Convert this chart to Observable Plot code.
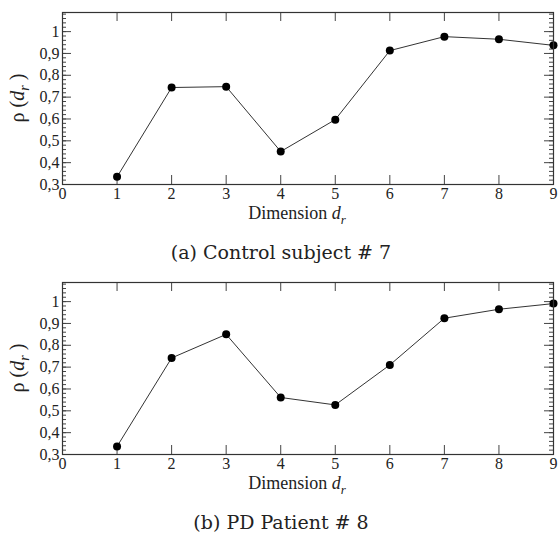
<!DOCTYPE html>
<html>
<head>
<meta charset="utf-8">
<script src="https://cdn.jsdelivr.net/npm/d3@7"></script>
<script src="https://cdn.jsdelivr.net/npm/@observablehq/plot@0.6"></script>
<style>
  html, body { margin: 0; padding: 0; background: #fff; }
  .panel { width: 558px; height: 270px; position: relative; }
  .caption { position: absolute; left: 0; width: 562px; text-align: center;
             font-family: "DejaVu Serif", serif; font-size: 19px; color: #222;
             top: 239px; line-height: 26px; }
  svg { display: block; }
</style>
</head>
<body>
<div id="root"></div>
<script>
// ---- data ----
const dims = [1, 2, 3, 4, 5, 6, 7, 8, 9];
const controlRho = [0.335, 0.744, 0.748, 0.451, 0.597, 0.913, 0.977, 0.965, 0.937];
const patientRho = [0.337, 0.742, 0.850, 0.561, 0.527, 0.710, 0.924, 0.965, 0.991];
const xTicks = [0, 1, 2, 3, 4, 5, 6, 7, 8, 9];
const yTicks = [0.3, 0.4, 0.5, 0.6, 0.7, 0.8, 0.9, 1.0];
const yMinorTicks = d3.range(15, 55).map(i => i * 0.02);
const captions = ["(a) Control subject # 7", "(b) PD Patient # 8"];
const xLabel = ["Dimension ", "d", "r"];
const yLabel = ["\u03c1 (", "d", "r", " )"];

const W = 558, H = 230, mL = 62, mR = 5, mT = 12, mB = 46;
const fw = W - mL - mR, fh = H - mT - mB;
const fmt = d => d === 1 ? "1" : d3.format(".1f")(d).replace(".", ",");
const SERIF = "Liberation Serif";

function panel(values, caption) {
  const data = dims.map((d, i) => ({d, rho: values[i]}));
  const chart = Plot.plot({
    width: W, height: H,
    marginLeft: mL, marginRight: mR, marginTop: mT, marginBottom: mB,
    x: {domain: [0, 9], axis: null},
    y: {domain: [0.3, 1.0875], axis: null},
    style: {fontFamily: SERIF, fontSize: "16px", color: "#222", background: "white", overflow: "visible"},
    marks: [
      Plot.tickY(yMinorTicks, {y: d => d, insetRight: fw - 4, stroke: "#444"}),
      Plot.tickY(yMinorTicks, {y: d => d, insetLeft: fw - 4, stroke: "#444"}),
      Plot.tickY(yTicks, {y: d => d, insetRight: fw - 9, stroke: "#444"}),
      Plot.tickY(yTicks, {y: d => d, insetLeft: fw - 9, stroke: "#444"}),
      Plot.tickX(xTicks, {x: d => d, insetBottom: fh - 9, stroke: "#444"}),
      Plot.tickX(xTicks, {x: d => d, insetTop: fh - 9, stroke: "#444"}),
      Plot.axisY(yTicks, {tickSize: 0, tickPadding: 3, tickFormat: fmt, label: null}),
      Plot.axisX(xTicks, {tickSize: 0, tickPadding: 3, tickFormat: d => String(d), label: null}),
      Plot.line(data, {x: "d", y: "rho", stroke: "#333", strokeWidth: 1}),
      Plot.dot(data, {x: "d", y: "rho", r: 4, fill: "black", stroke: "none"}),
      Plot.frame({stroke: "#333", strokeWidth: 1.2})
    ]
  });
  const svg = d3.select(chart);
  // x label
  const xl = svg.append("text")
    .attr("x", 297).attr("y", 219)
    .attr("text-anchor", "middle")
    .attr("font-family", SERIF).attr("font-size", 18).attr("fill", "#222");
  xl.append("tspan").text(xLabel[0]);
  xl.append("tspan").attr("font-style", "italic").text(xLabel[1]);
  xl.append("tspan").attr("font-style", "italic").attr("font-size", 13).attr("dy", 5).text(xLabel[2]);
  // y label
  const yl = svg.append("text")
    .attr("transform", `translate(24,${mT + fh / 2}) rotate(-90)`)
    .attr("text-anchor", "middle")
    .attr("font-family", SERIF).attr("font-size", 20).attr("fill", "#222");
  yl.append("tspan").text(yLabel[0]);
  yl.append("tspan").attr("font-style", "italic").text(yLabel[1]);
  yl.append("tspan").attr("font-style", "italic").attr("font-size", 14).attr("dy", 5).text(yLabel[2]);
  yl.append("tspan").attr("dy", -5).text(yLabel[3]);

  const div = document.createElement("div");
  div.className = "panel";
  div.appendChild(chart);
  const cap = document.createElement("div");
  cap.className = "caption";
  cap.textContent = caption;
  div.appendChild(cap);
  return div;
}

const root = document.getElementById("root");
root.appendChild(panel(controlRho, captions[0]));
root.appendChild(panel(patientRho, captions[1]));
</script>
</body>
</html>
